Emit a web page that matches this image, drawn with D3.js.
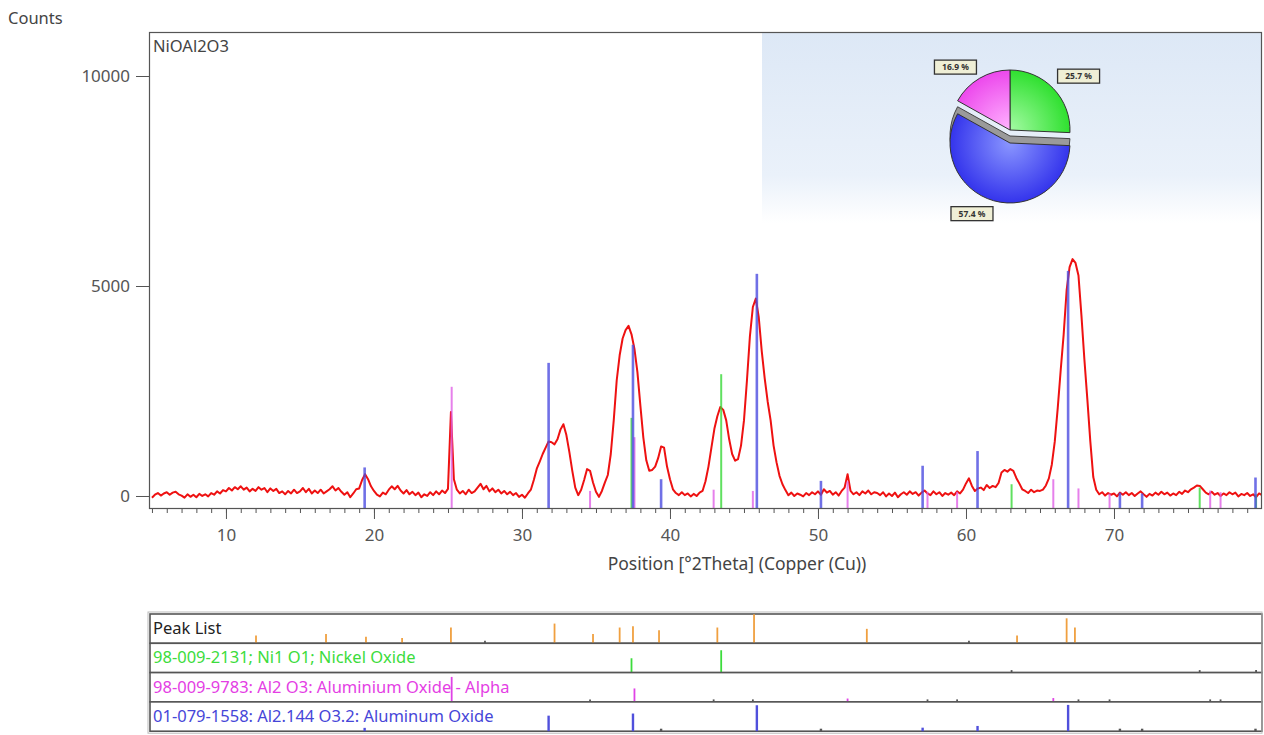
<!DOCTYPE html>
<html>
<head>
<meta charset="utf-8">
<script src="https://cdn.jsdelivr.net/npm/d3@7/dist/d3.min.js"></script>
<style>
  body { margin: 0; background: #fff; }
  svg { display: block; font-family: "Noto Sans", sans-serif; }
</style>
</head>
<body>
<svg id="chart" width="1264" height="735"></svg>
<script>
// measured scan, 5.0 .. 80.0 deg 2Theta, 0.2 deg step
var scanStart = 5.0, scanStep = 0.2;
var scanCounts = [
  -40, 30, 70, 10, 60,   90, 30, 80, 100, 40,   10, -40, 40, -20, 30,   -30, 50, 0, 40, -10,
  70, 30, 110, 60, 140,   110, 190, 130, 210, 160,   230, 150, 200, 110, 170,   120, 210, 150, 190, 90,
  180, 120, 170, 70, 110,   40, 120, 60, 150, 70,   110, 190, 90, 170, 60,   130, 70, 150, 60, 110,
  160, 230, 130, 190, 100,   30, 90, -30, 60, 160,   180, 380, 520, 400, 230,   120, 30, -10, 80, 40,
  150, 230, 160, 240, 130,   60, 140, 40, 100, 20,   80, -30, 40, 0, 90,   20, 110, 40, 130, 70,
  170, 2000, 400, 150, 60,   120, 40, 150, 70, 110,   200, 290, 160, 240, 110,   180, 90, 150, 60, 120,
  40, 100, 20, 70, -20,   30, -40, 60, 150, 380,   650, 820, 1000, 1150, 1300,   1280, 1230, 1350, 1580, 1710,
  1450, 1050, 600, 200, 20,   150, 380, 640, 600, 320,   100, -20, 120, 320, 500,   1000, 1800, 2750, 3350, 3750,
  3950, 4050, 3850, 3500, 2950,   2150, 1390, 850, 600, 620,   700, 900, 1180, 1150, 700,   400, 160, 70, 20, 90,
  20, 60, -10, 50, 0,   80, 120, 350, 700, 1150,   1600, 1900, 2120, 2050, 1800,   1350, 1000, 840, 880, 1200,
  1800, 2750, 3800, 4500, 4700,   4250, 3450, 2800, 2250, 1800,   1200, 800, 480, 280, 140,   20, 80, 0, 60, 30,
  -10, 70, 20, 90, 40,   110, 30, 160, 80, 120,   30, 90, 10, 120, 200,   520, 120, 40, 90, 20,
  110, 60, 130, 40, 90,   70, 20, 90, -10, 60,   0, 80, -30, 40, 90,   30, 110, 50, 90, 10,
  80, 130, 60, 20, 110,   40, 90, 0, 70, 30,   80, 20, 110, 60, 150,   300, 420, 240, 120, 180,
  200, 140, 260, 190, 240,   210, 310, 560, 620, 580,   640, 600, 430, 300, 160,   120, 70, 150, 90, 130,
  120, 150, 250, 420, 750,   1300, 2100, 3000, 3850, 4900,   5450, 5640, 5550, 5250, 4300,   3250, 2300, 1300, 450, 150,
  40, 90, 10, 70, 30,   60, -10, 80, 30, 90,   20, 70, 0, 60, 110,   40, -20, 50, 10, 80,
  30, 100, 40, 80, 10,   60, 20, 100, 50, 130,   90, 160, 200, 250, 240,   160, 80, 40, 100, 30,
  70, 0, 60, 20, 90,   40, 80, -10, 50, 20,   70, 0, 40, -30, 60,   20
];

// reference patterns: [2Theta, counts]
var refNiO = [[37.4, 1860], [43.46, 2900], [63.08, 280], [75.79, 200], [79.6, 40]];
var refAl2O3Alpha = [[25.25, 2600], [34.6, 120], [37.6, 1400], [42.95, 150], [45.6, 120], [52.0, 350],
                     [57.4, 100], [59.4, 100], [65.9, 400], [67.6, 180], [69.7, 60], [76.5, 130], [77.2, 90]];
var refAl2144 = [[19.37, 680], [31.8, 3170], [37.5, 3600], [39.4, 400], [45.87, 5290], [50.2, 360],
                 [57.07, 720], [60.78, 1070], [66.9, 5360], [70.4, 80], [71.9, 60], [79.56, 440]];

// peak list: [2Theta, relative height]
var peakList = [[12.03, 0.3], [16.76, 0.35], [19.46, 0.25], [21.9, 0.2], [25.2, 0.6], [27.5, 0.1],
                [32.2, 0.75], [34.8, 0.35], [36.6, 0.6], [37.5, 0.65], [39.26, 0.5], [43.2, 0.6],
                [45.68, 1.1], [53.3, 0.55], [60.2, 0.1], [63.45, 0.3], [66.8, 0.95], [67.36, 0.6]];

var rowNames = ["Peak List",
                "98-009-2131; Ni1 O1; Nickel Oxide",
                "98-009-9783: Al2 O3: Aluminium Oxide - Alpha",
                "01-079-1558: Al2.144 O3.2: Aluminum Oxide"];
var rowColors = ["#222", "#3cdc3c", "#e43ee4", "#4646d8"];

// phase composition (pie), clockwise from 12 o'clock
var pieNames = ["Nickel Oxide", "Aluminum Oxide", "Aluminium Oxide - Alpha"];
var pieValues = [25.7, 57.4, 16.9];
var pieLabels = ["25.7 %", "57.4 %", "16.9 %"];

var xTicks = [10, 20, 30, 40, 50, 60, 70];
var yTicks = [0, 5000, 10000];

var svg = d3.select("#chart");
var defs = svg.append("defs");

var plot = {left: 149, top: 32, right: 1262, bottom: 508};
var x = d3.scaleLinear().domain([4.8, 80]).range([plot.left, plot.right]);
var y = d3.scaleLinear().domain([-286, 11048]).range([plot.bottom, plot.top]);

defs.append("clipPath").attr("id", "plotclip")
  .append("rect")
  .attr("x", plot.left).attr("y", plot.top)
  .attr("width", plot.right - plot.left).attr("height", plot.bottom - plot.top);

// light blue band behind the pie
var bg = defs.append("linearGradient").attr("id", "piebg")
  .attr("x1", 0).attr("y1", 0).attr("x2", 0).attr("y2", 1);
bg.append("stop").attr("offset", "0%").attr("stop-color", "#dde8f6");
bg.append("stop").attr("offset", "75%").attr("stop-color", "#eaf1fa");
bg.append("stop").attr("offset", "100%").attr("stop-color", "#ffffff");

svg.append("rect")
  .attr("x", 762).attr("y", plot.top + 1)
  .attr("width", plot.right - 762).attr("height", 190)
  .attr("fill", "url(#piebg)");

// axis titles
svg.append("text").attr("x", 8).attr("y", 24)
  .attr("font-size", 16.5).attr("fill", "#444").text("Counts");
svg.append("text").attr("x", 153).attr("y", 52)
  .attr("font-size", 16.5).attr("fill", "#444").text("NiOAl2O3");
svg.append("text").attr("x", 737).attr("y", 570)
  .attr("text-anchor", "middle")
  .attr("font-size", 17.5).attr("fill", "#444").text("Position [\u00B02Theta] (Copper (Cu))");

// y axis
var yAxis = svg.append("g")
  .attr("transform", "translate(" + plot.left + ",0)")
  .call(d3.axisLeft(y).tickValues(yTicks).tickSize(13).tickPadding(6).tickFormat(d3.format("d")));
yAxis.select(".domain").remove();
yAxis.selectAll("text").attr("font-size", 17).attr("fill", "#555").attr("font-family", "Noto Sans");
yAxis.selectAll("line").attr("stroke", "#555");

// x axis, minor then major
var xMinor = svg.append("g")
  .attr("transform", "translate(0," + plot.bottom + ")")
  .call(d3.axisBottom(x).tickValues(d3.range(5, 80, 1)).tickSize(5).tickFormat(""));
xMinor.select(".domain").remove();
xMinor.selectAll("line").attr("stroke", "#555");

var xAxis = svg.append("g")
  .attr("transform", "translate(0," + plot.bottom + ")")
  .call(d3.axisBottom(x).tickValues(xTicks).tickSize(11).tickPadding(10));
xAxis.select(".domain").remove();
xAxis.selectAll("text").attr("font-size", 17).attr("fill", "#555").attr("font-family", "Noto Sans");
xAxis.selectAll("line").attr("stroke", "#555");

// scan curve
var g = svg.append("g").attr("clip-path", "url(#plotclip)");
var line = d3.line()
  .x(function(d, i){ return x(scanStart + i * scanStep); })
  .y(function(d){ return y(d); });

g.append("path")
  .datum(scanCounts)
  .attr("fill", "none")
  .attr("stroke", "#ee1111")
  .attr("stroke-width", 2)
  .attr("stroke-linejoin", "round")
  .attr("d", line);

// reference sticks on top of the scan
function drawSticks(data, color, width){
  g.append("g").selectAll("line")
    .data(data).enter().append("line")
      .attr("x1", function(d){ return x(d[0]); })
      .attr("x2", function(d){ return x(d[0]); })
      .attr("y1", plot.bottom)
      .attr("y2", function(d){ return y(d[1]); })
      .attr("stroke", color)
      .attr("stroke-width", width)
      .attr("stroke-opacity", 0.8);
}
drawSticks(refAl2O3Alpha, "#e060e6", 2);
drawSticks(refNiO, "#38d838", 2);
drawSticks(refAl2144, "#4c4ce0", 2.6);

// frame
svg.append("rect")
  .attr("x", plot.left + 0.5).attr("y", plot.top + 0.5)
  .attr("width", plot.right - plot.left - 1).attr("height", plot.bottom - plot.top)
  .attr("fill", "none").attr("stroke", "#555").attr("stroke-width", 1.2);

// pie
var pie = d3.pie().sort(null).value(function(d){ return d.value; });
var pieData = pieNames.map(function(n, i){ return {name: n, value: pieValues[i], label: pieLabels[i]}; });
var arcs = pie(pieData);
var pieColors = {
  "Nickel Oxide": ["#a4fba4", "#2fe02f"],
  "Aluminum Oxide": ["#8a96ff", "#3434ec"],
  "Aluminium Oxide - Alpha": ["#ffb4ff", "#ec48ec"]
};
pieData.forEach(function(d, i){
  var rg = defs.append("radialGradient").attr("id", "pg" + i)
    .attr("gradientUnits", "userSpaceOnUse")
    .attr("cx", 0).attr("cy", 0).attr("r", 60);
  rg.append("stop").attr("offset", "0%").attr("stop-color", pieColors[d.name][0]);
  rg.append("stop").attr("offset", "100%").attr("stop-color", pieColors[d.name][1]);
});

var radius = 60;
var arc = d3.arc().innerRadius(0).outerRadius(radius);
var pieCx = 1010, pieCy = 130;

// lower (blue) piece with grey thickness
var blueArc = arcs[1];
svg.append("path")
  .attr("transform", "translate(" + pieCx + "," + (pieCy + 6) + ")")
  .attr("d", arc(blueArc))
  .attr("fill", "#9a9a9a").attr("stroke", "#444").attr("stroke-width", 1);
svg.append("path")
  .attr("transform", "translate(" + pieCx + "," + (pieCy + 13) + ")")
  .attr("d", arc(blueArc))
  .attr("fill", "url(#pg1)").attr("stroke", "#333").attr("stroke-width", 1);

var upper = svg.append("g").attr("transform", "translate(" + pieCx + "," + pieCy + ")");
upper.selectAll("path")
  .data([arcs[0], arcs[2]]).enter().append("path")
    .attr("d", arc)
    .attr("fill", function(d){ return "url(#pg" + d.index + ")"; })
    .attr("stroke", "#333").attr("stroke-width", 1);

// label boxes sit just off the outer arc, nudged like the original
var labelArc = d3.arc().innerRadius(88).outerRadius(88);
var labelNudge = [[5, 1], [-14, -7], [-10, 7]];
var lab = svg.append("g").attr("transform", "translate(" + pieCx + "," + (pieCy + 6) + ")")
  .selectAll("g").data(arcs).enter().append("g")
    .attr("transform", function(d, i){
      var c = labelArc.centroid(d);
      return "translate(" + (c[0] + labelNudge[i][0]) + "," + (c[1] + labelNudge[i][1]) + ")";
    });
lab.append("rect")
  .attr("x", -21).attr("y", -7).attr("width", 42).attr("height", 14)
  .attr("fill", "#efefd6").attr("stroke", "#333").attr("stroke-width", 1.3);
lab.append("text")
  .attr("text-anchor", "middle").attr("dy", "0.35em")
  .attr("font-size", 8.5).attr("font-weight", "bold").attr("fill", "#333")
  .text(function(d){ return d.data.label; });

// peak list panel
var panel = {left: 150, right: 1262, top: 614, rowH: 29.3};
var rowData = [
  peakList,
  refNiO.map(function(d){ return [d[0], d[1] / 2900 * 0.85]; }),
  refAl2O3Alpha.map(function(d){ return [d[0], d[1] / 2600 * 0.95]; }),
  refAl2144.map(function(d){ return [d[0], d[1] / 5360]; })
];
var stickColors = ["#f0a040", "#3cdc3c", "#e043e6", "#5050dc"];

var rows = svg.append("g").selectAll("g")
  .data(rowNames).enter().append("g")
    .attr("transform", function(d, i){ return "translate(0," + (panel.top + i * panel.rowH) + ")"; });

rows.append("rect")
  .attr("x", panel.left).attr("y", 0)
  .attr("width", panel.right - panel.left).attr("height", panel.rowH)
  .attr("fill", "#fff").attr("stroke", "#555").attr("stroke-width", 1.6);

rows.append("text")
  .attr("x", panel.left + 3).attr("y", 20)
  .attr("font-size", 16.5)
  .attr("fill", function(d, i){ return rowColors[i]; })
  .text(function(d){ return d; });

rows.each(function(name, i){
  d3.select(this).selectAll("line.stick")
    .data(rowData[i]).enter().append("line")
      .attr("class", "stick")
      .attr("x1", function(d){ return x(d[0]); })
      .attr("x2", function(d){ return x(d[0]); })
      .attr("y1", panel.rowH)
      .attr("y2", function(d){ return panel.rowH - Math.max(2.5, d[1] * (panel.rowH - 3)); })
      .attr("stroke", function(d){ return d[1] < 0.12 ? "#555" : stickColors[i]; })
      .attr("stroke-width", i === 3 ? 2.4 : 1.8);
});

// light outer edge of panel
svg.append("rect")
  .attr("x", panel.left - 2).attr("y", panel.top - 2)
  .attr("width", panel.right - panel.left + 2).attr("height", panel.rowH * 4 + 4)
  .attr("fill", "none").attr("stroke", "#bbb").attr("stroke-width", 1);
</script>
</body>
</html>
